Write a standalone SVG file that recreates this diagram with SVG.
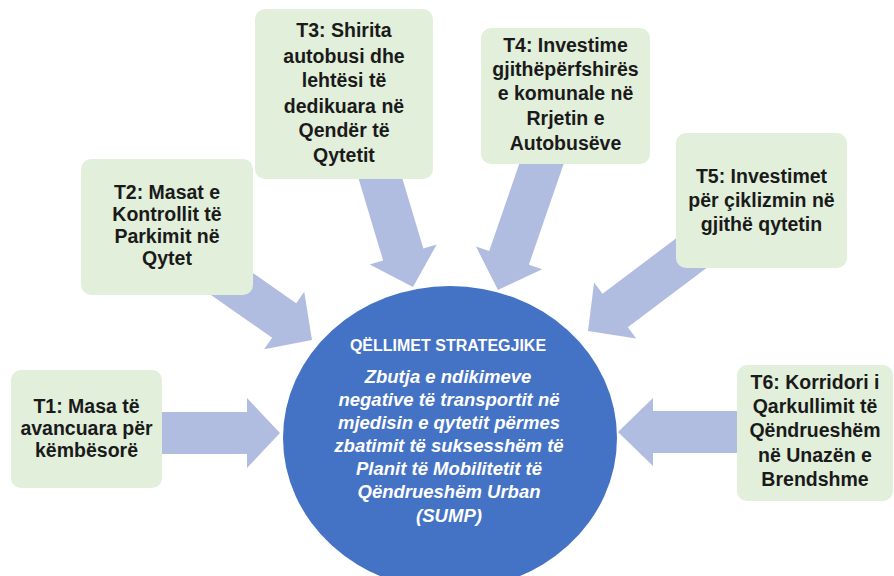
<svg xmlns="http://www.w3.org/2000/svg" width="894" height="576" viewBox="0 0 894 576">
<style>
.box{fill:#E2EFDA;}
.arrow{fill:#B1BDE0;}
.t{font-family:"Liberation Sans",Arial,sans-serif;font-weight:bold;font-size:19.5px;fill:#1a1a1a;text-anchor:middle;}
.title{font-family:"Liberation Sans",Arial,sans-serif;font-weight:bold;font-size:16px;fill:#ffffff;text-anchor:middle;}
.it{font-family:"Liberation Sans",Arial,sans-serif;font-weight:bold;font-style:italic;font-size:18.5px;fill:#ffffff;text-anchor:middle;}
</style>
<rect width="894" height="576" fill="#ffffff"/>
<g id="connectors">
<polygon class="arrow" transform="translate(280,433)" points="-130,-21 -33,-21 -33,-35 0,0 -33,35 -33,21 -130,21"/>
<polygon class="arrow" transform="translate(312,340) rotate(35)" points="-130,-21 -34,-21 -34,-35 0,0 -34,35 -34,21 -130,21"/>
<polygon class="arrow" transform="translate(413,287) rotate(73.3)" points="-125,-21 -34,-21 -34,-35 0,0 -34,35 -34,21 -125,21"/>
<polygon class="arrow" transform="translate(498,290) rotate(109)" points="-145,-21 -34,-21 -34,-35 0,0 -34,35 -34,21 -145,21"/>
<polygon class="arrow" transform="translate(588,331) rotate(143)" points="-150,-21 -34,-21 -34,-35 0,0 -34,35 -34,21 -150,21"/>
<polygon class="arrow" transform="translate(618,432) rotate(180)" points="-130,-21 -35,-21 -35,-34 0,0 -35,34 -35,21 -130,21"/>
</g>
<g id="T1">
<rect class="box" x="11" y="370" width="151" height="118" rx="10"/>
<text class="t" x="86.5" y="413">T1: Masa të</text>
<text class="t" x="86.5" y="435">avancuara për</text>
<text class="t" x="86.5" y="457">këmbësorë</text>
</g>
<g id="T2">
<rect class="box" x="81" y="159" width="172" height="136" rx="10"/>
<text class="t" x="167" y="199">T2: Masat e</text>
<text class="t" x="167" y="221">Kontrollit të</text>
<text class="t" x="167" y="243">Parkimit në</text>
<text class="t" x="167" y="265">Qytet</text>
</g>
<g id="T3">
<rect class="box" x="255" y="9" width="178" height="170" rx="10"/>
<text class="t" x="344" y="37">T3: Shirita</text>
<text class="t" x="344" y="63">autobusi dhe</text>
<text class="t" x="344" y="87">lehtësi të</text>
<text class="t" x="344" y="113">dedikuara në</text>
<text class="t" x="344" y="137">Qendër të</text>
<text class="t" x="344" y="162">Qytetit</text>
</g>
<g id="T4">
<rect class="box" x="481" y="28" width="169" height="136" rx="10"/>
<text class="t" x="565.5" y="52">T4: Investime</text>
<text class="t" x="565.5" y="76">gjithëpërfshirës</text>
<text class="t" x="565.5" y="100">e komunale në</text>
<text class="t" x="565.5" y="125">Rrjetin e</text>
<text class="t" x="565.5" y="150">Autobusëve</text>
</g>
<g id="T5">
<rect class="box" x="676" y="133" width="171" height="135" rx="10"/>
<text class="t" x="761.5" y="183">T5: Investimet</text>
<text class="t" x="761.5" y="207">për çiklizmin në</text>
<text class="t" x="761.5" y="231">gjithë qytetin</text>
</g>
<g id="T6">
<rect class="box" x="737" y="365" width="156" height="136" rx="10"/>
<text class="t" x="815" y="389">T6: Korridori i</text>
<text class="t" x="815" y="413">Qarkullimit të</text>
<text class="t" x="815" y="437">Qëndrueshëm</text>
<text class="t" x="815" y="462">në Unazën e</text>
<text class="t" x="815" y="486">Brendshme</text>
</g>
<g id="goal">
<ellipse cx="450" cy="438" rx="167" ry="152" fill="#4472C4"/>
<text class="title" x="448" y="351">QËLLIMET STRATEGJIKE</text>
<text class="it" x="448" y="383">Zbutja e ndikimeve</text>
<text class="it" x="449" y="406">negative të transportit në</text>
<text class="it" x="449" y="429">mjedisin e qytetit përmes</text>
<text class="it" x="449" y="452">zbatimit të suksesshëm të</text>
<text class="it" x="449" y="475">Planit të Mobilitetit të</text>
<text class="it" x="449" y="498">Qëndrueshëm Urban</text>
<text class="it" x="449" y="522">(SUMP)</text>
</g>
</svg>
